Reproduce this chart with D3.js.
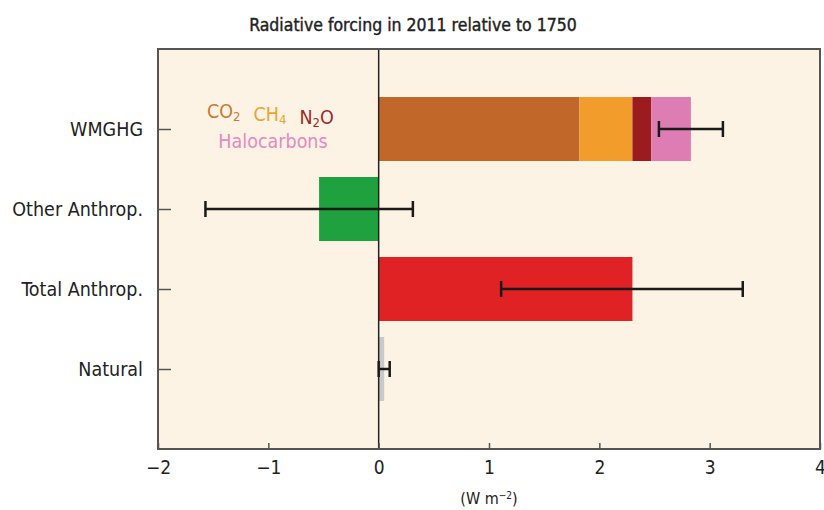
<!DOCTYPE html>
<html>
<head>
<meta charset="utf-8">
<script src="https://cdn.jsdelivr.net/npm/d3@7"></script>
<style>
  body { margin: 0; background: #fff; }
  svg text { font-family: "Liberation Sans Narrow", "DejaVu Sans Condensed", "Noto Sans", sans-serif; }
</style>
</head>
<body>
<div id="chart"></div>
<script>
const categories = ["WMGHG", "Other Anthrop.", "Total Anthrop.", "Natural"];
const ghgNames = ["CO2", "CH4", "N2O", "Halocarbons"];
const ghgValues = [1.82, 0.48, 0.17, 0.36];
const totals = [2.83, -0.54, 2.30, 0.05];
const errLow = [2.54, -1.57, 1.11, 0.00];
const errHigh = [3.12, 0.31, 3.30, 0.10];
const xTicks = [-2, -1, 0, 1, 2, 3, 4];

const width = 824, height = 510;
const margin = { top: 49, right: 4, bottom: 61, left: 158 };

const ghgColors = { CO2: "#c1672a", CH4: "#f29c2b", N2O: "#9b1b1f", Halocarbons: "#de7db4" };
const catColors = { "Other Anthrop.": "#1fa140", "Total Anthrop.": "#e12225", "Natural": "#c9c9c9" };
const legendColors = { CO2: "#c97a36", CH4: "#f0a32e", N2O: "#9b2a2a", Halocarbons: "#e58ac2" };

const svg = d3.select("#chart")
    .append("svg")
    .attr("width", width)
    .attr("height", height);

const x = d3.scaleLinear()
    .domain([-2, 4])
    .range([margin.left, width - margin.right]);

const y = d3.scalePoint()
    .domain(categories)
    .range([margin.top, height - margin.bottom])
    .padding(1);

const barH = y.step() * 0.8;

// background
svg.append("rect")
    .attr("x", x(-2))
    .attr("y", margin.top)
    .attr("width", x(4) - x(-2))
    .attr("height", height - margin.bottom - margin.top)
    .attr("fill", "#fdf3e4");

// title
svg.append("text")
    .attr("x", 413)
    .attr("y", 31)
    .attr("text-anchor", "middle")
    .attr("font-size", 17.5)
    .attr("fill", "#222")
    .attr("stroke", "#222")
    .attr("stroke-width", 0.4)
    .text("Radiative forcing in 2011 relative to 1750");

// stacked WMGHG
let cum = 0;
const stack = ghgValues.map((v, i) => {
    const s = { name: ghgNames[i], x0: cum, x1: cum + v };
    cum += v;
    return s;
});

svg.append("g")
    .selectAll("rect")
    .data(stack)
    .enter().append("rect")
    .attr("x", d => x(d.x0))
    .attr("width", d => x(d.x1) - x(d.x0))
    .attr("y", y("WMGHG") - barH / 2)
    .attr("height", barH)
    .attr("fill", d => ghgColors[d.name]);

// other bars
const others = categories.slice(1).map(c => ({ cat: c, v: totals[categories.indexOf(c)] }));
svg.append("g")
    .selectAll("rect")
    .data(others)
    .enter().append("rect")
    .attr("x", d => x(Math.min(0, d.v)))
    .attr("width", d => Math.abs(x(d.v) - x(0)))
    .attr("y", d => y(d.cat) - barH / 2)
    .attr("height", d => barH)
    .attr("fill", d => catColors[d.cat]);

// zero line
svg.append("line")
    .attr("x1", x(0)).attr("x2", x(0))
    .attr("y1", margin.top).attr("y2", height - margin.bottom)
    .attr("stroke", "#222")
    .attr("stroke-width", 1.5);

// error bars
const errG = svg.append("g")
    .attr("stroke", "#1a1a1a")
    .attr("stroke-width", 2.5);
categories.forEach((c, i) => {
    const cy = y(c);
    errG.append("line")
        .attr("x1", x(errLow[i])).attr("x2", x(errHigh[i]))
        .attr("y1", cy).attr("y2", cy);
    [errLow[i], errHigh[i]].forEach(v => {
        errG.append("line")
            .attr("x1", x(v)).attr("x2", x(v))
            .attr("y1", cy - 8).attr("y2", cy + 8);
    });
});

// frame
svg.append("rect")
    .attr("x", x(-2))
    .attr("y", margin.top)
    .attr("width", x(4) - x(-2))
    .attr("height", height - margin.bottom - margin.top)
    .attr("fill", "none")
    .attr("stroke", "#555")
    .attr("stroke-width", 2);

// x axis
const xAxis = svg.append("g")
    .attr("transform", `translate(0,${height - margin.bottom})`)
    .call(d3.axisBottom(x).tickValues(xTicks).tickSize(-6).tickPadding(12)
        .tickFormat(d => d < 0 ? "\u2212" + Math.abs(d) : d));
xAxis.select(".domain").remove();
xAxis.selectAll(".tick line").attr("stroke", "#555").attr("stroke-width", 1.5);
xAxis.selectAll(".tick text")
    .attr("font-size", 19)
    .attr("fill", "#222")
    .attr("font-family", null);

// y axis
const yAxis = svg.append("g")
    .attr("transform", `translate(${margin.left},0)`)
    .call(d3.axisLeft(y).tickSize(-13).tickPadding(15));
yAxis.select(".domain").remove();
yAxis.selectAll(".tick line").attr("stroke", "#555").attr("stroke-width", 1.5);
yAxis.selectAll(".tick text")
    .attr("font-size", 19.5)
    .attr("fill", "#222")
    .attr("font-family", null);

// x label
const xl = svg.append("text")
    .attr("x", (x(-2) + x(4)) / 2)
    .attr("y", 504)
    .attr("text-anchor", "middle")
    .attr("font-size", 16)
    .attr("fill", "#222");
xl.append("tspan").text("(W m");
xl.append("tspan").attr("baseline-shift", "super").attr("font-size", 10).text("\u22122");
xl.append("tspan").text(")");

// legend
const leg = svg.append("text")
    .attr("x", 207)
    .attr("y", 118)
    .attr("font-size", 19.5);
const parts = [
    { name: "CO2", base: "CO", sub: "2" },
    { name: "CH4", base: "CH", sub: "4" },
    { name: "N2O", base: "N", sub: "2", tail: "O" }
];
parts.forEach((p, i) => {
    const col = legendColors[p.name];
    leg.append("tspan").attr("fill", col).attr("dx", i ? 13 : 0).text(p.base);
    leg.append("tspan").attr("fill", col).attr("font-size", 13).attr("dy", 3).text(p.sub);
    leg.append("tspan").attr("fill", col).attr("dy", -3).text(p.tail || "");
});
svg.append("text")
    .attr("x", 273)
    .attr("y", 148)
    .attr("text-anchor", "middle")
    .attr("font-size", 19.5)
    .attr("fill", legendColors.Halocarbons)
    .text("Halocarbons");
</script>
</body>
</html>
